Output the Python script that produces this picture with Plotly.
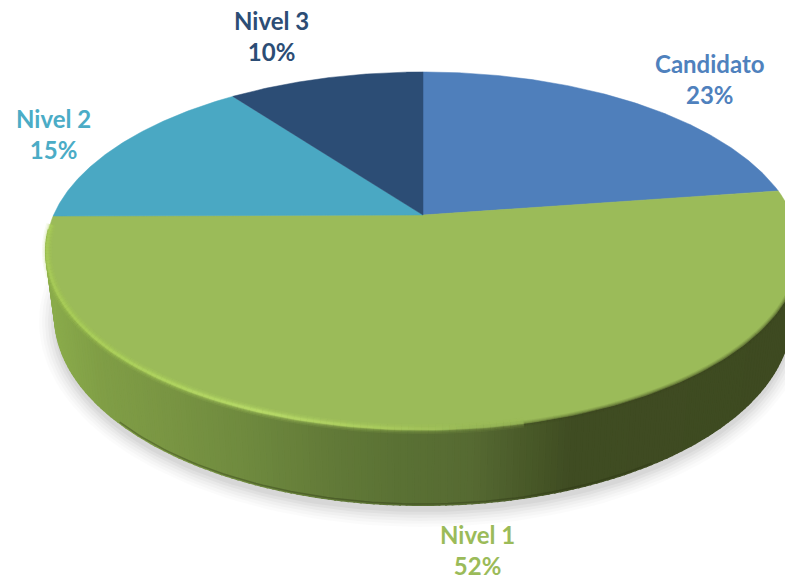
import numpy as np
import plotly.graph_objects as go

categories = ["Candidato", "Nivel 1", "Nivel 2", "Nivel 3"]
values = [22.7, 52.2, 14.9, 10.2]
slice_colors = ["#4f7fbb", "#9bbb59", "#4aa8c3", "#2c4d75"]
label_colors = ["#4f81bd", "#9bbb59", "#4bacc6", "#2c4d75"]
label_pos = [(710, 79), (477, 550), (53, 134), (271, 36)]

W, H = 785, 582
CX, CY = 423, 215          # pie centre as seen in perspective
A, B, K = 369.4, 171.8, 0.201  # perspective projection of the unit disc
EY, RX, RY = 251, 377, 179     # the ellipse that this projection gives
BY, BRX, BRY = 316, 368, 189   # lower rim of the wall

wall_x = [40, 100, 160, 250, 330, 400, 470, 530, 570, 800]
wall_rgb = [(140, 174, 76), (128, 158, 70), (122, 150, 67), (110, 137, 62), (98, 122, 56),
            (90, 113, 52), (86, 106, 50), (72, 88, 40), (63, 76, 34), (62, 74, 33)]
rim_x = [40, 120, 260, 380, 470, 530]
rim_rgb = [(172, 208, 88), (180, 218, 94), (196, 232, 112), (176, 210, 96), (156, 188, 90), (155, 187, 89)]


def project(turn):
    a = 2 * np.pi * np.asarray(turn)
    u, v = np.sin(a), np.cos(a)
    d = 1 + K * v
    return CX + A * u / d, CY - B * v / d


def mix(x, stops, colours):
    return tuple(np.interp(x, stops, [c[i] for c in colours]) for i in range(3))


def rgb(c, alpha=None):
    r, g, b = (int(round(float(p))) for p in c)
    return f"rgb({r},{g},{b})" if alpha is None else f"rgba({r},{g},{b},{alpha})"


fig = go.Figure()


def poly(x, y, fill, line=None, width=0.0):
    fig.add_trace(go.Scatter(x=x, y=y, mode="lines", fill="toself", fillcolor=fill,
                             line=dict(color=line or "rgba(0,0,0,0)", width=width),
                             hoverinfo="skip", showlegend=False))


def stroke(x, y, colour, width):
    fig.add_trace(go.Scatter(x=x, y=y, mode="lines", hoverinfo="skip", showlegend=False,
                             line=dict(color=colour, width=width)))


# soft shadow under the disc
t = np.linspace(0, 2 * np.pi, 200)
for grow, alpha in [(16, 0.016), (13, 0.02), (10, 0.024), (7, 0.028), (4, 0.034), (1, 0.04)]:
    poly(CX + (BRX + grow) * np.cos(t), BY + 6 + (BRY + grow) * np.sin(t), f"rgba(0,0,0,{alpha})")

# wall, as thin quads shaded by horizontal position
edges = np.linspace(-0.12, np.pi + 0.12, 190)
for t0, t1 in zip(edges[:-1], edges[1:]):
    xs = [CX + RX * np.cos(t0), CX + RX * np.cos(t1), CX + BRX * np.cos(t1), CX + BRX * np.cos(t0)]
    ys = [EY + RY * np.sin(t0), EY + RY * np.sin(t1), BY + BRY * np.sin(t1), BY + BRY * np.sin(t0)]
    c = rgb(mix(np.mean(xs), wall_x, wall_rgb))
    poly(xs + xs[:1], ys + ys[:1], c, c, 2.0)

# darker foot of the wall
t = np.linspace(0.9, np.pi - 0.6, 80)
stroke(CX + (BRX - 0.5) * np.cos(t), BY + (BRY - 1) * np.sin(t), "rgba(40,50,18,0.35)", 1.5)

# top face, one wedge per category
start = 0.0
total = sum(values)
for value, colour in zip(values, slice_colors):
    turns = np.linspace(start, start + value / total, 160)
    px, py = project(turns)
    poly(np.r_[CX, px, CX], np.r_[CY, py, CY], colour, colour, 0.5)
    start += value / total

# dark blur on the right part of the front edge
edges = np.linspace(0.0, 1.6, 80)
for t0, t1 in zip(edges[:-1], edges[1:]):
    tt = np.array([t0, t1])
    x = CX + RX * np.cos(tt)
    fade = float(np.clip((np.mean(x) - 440) / 140, 0, 1))
    if fade > 0:
        y = EY + RY * np.sin(tt)
        for w, alpha in [(6, 0.12), (4, 0.18), (2, 0.3)]:
            stroke(x, y, f"rgba(62,74,33,{alpha * fade:.3f})", w)

# bright bevel on the left part of the front edge
edges = np.linspace(1.3, np.pi + 0.15, 110)
for t0, t1 in zip(edges[:-1], edges[1:]):
    tt = np.array([t0, t1])
    x = CX + (RX - 1) * np.cos(tt)
    y = EY + (RY - 1) * np.sin(tt)
    c = mix(np.mean(x), rim_x, rim_rgb)
    for w, alpha in [(10, 0.10), (7, 0.16), (4.5, 0.28), (2.5, 0.4)]:
        stroke(x, y, rgb(c, alpha), w)

# labels
for name, value, colour, (lx, ly) in zip(categories, values, label_colors, label_pos):
    fig.add_annotation(x=lx, y=ly, text=f"<b>{name}<br>{round(value)}%</b>", showarrow=False,
                       font=dict(family="Lato", size=24, color=colour), align="center")

fig.update_layout(width=W, height=H, margin=dict(l=0, r=0, t=0, b=0), showlegend=False,
                  paper_bgcolor="white", plot_bgcolor="white",
                  xaxis=dict(range=[0, W], visible=False, fixedrange=True),
                  yaxis=dict(range=[H, 0], visible=False, fixedrange=True))
fig.write_html("out.html", config={"displayModeBar": False},
               post_script="document.body.style.margin='0';document.body.style.overflow='hidden';")
